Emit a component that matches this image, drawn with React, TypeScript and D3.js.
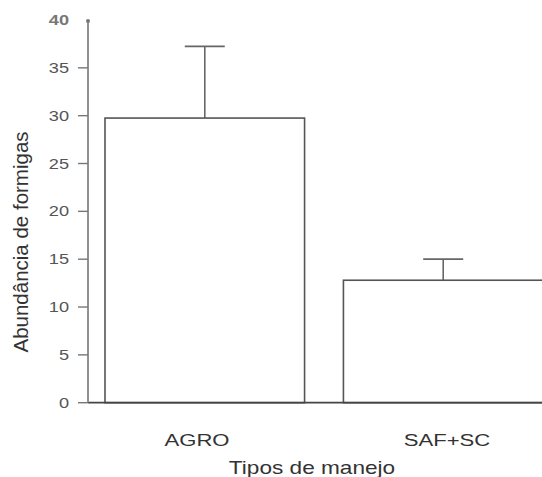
import React from "react";
import * as d3 from "d3";

const categories = ["AGRO", "SAF+SC"];
const means = [29.75, 12.8];
const errors = [7.5, 2.2];
const yTicks = [0, 5, 10, 15, 20, 25, 30, 35, 40];
const yTitle = "Abundância de formigas";
const xTitle = "Tipos de manejo";

export default function App() {
  const W = 542, H = 477;
  const axisX = 88;
  const y = d3.scaleLinear().domain([0, 40]).range([402.7, 20]);
  const x = d3.scaleBand<string>().domain(categories).range([105, 543]).paddingInner(0.163).paddingOuter(0);
  const font = "'Liberation Sans', Arial, sans-serif";
  const sx = 1.3;
  const labelCenters = [197, 447];
  return (
    <svg width={W} height={H} style={{ position: "absolute", left: 0, top: 0, background: "#fff" }}>
      {/* bars */}
      {categories.map((c, i) => (
        <g key={c}>
          <line x1={x(c)! + x.bandwidth() / 2} x2={x(c)! + x.bandwidth() / 2} y1={y(means[i])} y2={y(means[i] + errors[i])} stroke="#666" strokeWidth={1.6} />
          <line x1={x(c)! + x.bandwidth() / 2 - 20} x2={x(c)! + x.bandwidth() / 2 + 20} y1={y(means[i] + errors[i])} y2={y(means[i] + errors[i])} stroke="#666" strokeWidth={1.8} />
          <rect x={x(c)!} y={y(means[i])} width={x.bandwidth()} height={y(0) - y(means[i])} fill="#fff" stroke="#555" strokeWidth={1.6} />
        </g>
      ))}
      {/* baseline */}
      <line x1={axisX} x2={W} y1={y(0)} y2={y(0)} stroke="#444" strokeWidth={1.8} />
      {/* y axis */}
      <line x1={axisX} x2={axisX} y1={y(40)} y2={y(0)} stroke="#777" strokeWidth={1.6} />
      <circle cx={axisX} cy={y(40) + 1} r={2} fill="#777" />
      {yTicks.map((t) => (
        <g key={t}>
          {t !== 40 && <line x1={78} x2={axisX} y1={y(t)} y2={y(t)} stroke="#777" strokeWidth={1.4} />}
          <text
            transform={`translate(69,${y(t) + 5}) scale(${sx},1)`}
            textAnchor="end"
            fontFamily={font}
            fontSize={14}
            fill={t === 40 ? "#777" : "#555"}
            fontWeight={t === 40 ? "bold" : "normal"}
          >
            {t}
          </text>
        </g>
      ))}
      {/* category labels */}
      {categories.map((c, i) => (
        <text key={c} transform={`translate(${labelCenters[i]},445.5) scale(${sx},1)`} textAnchor="middle" fontFamily={font} fontSize={17} fill="#333">
          {c}
        </text>
      ))}
      <text transform={`translate(312,473.5) scale(1.19,1)`} textAnchor="middle" fontFamily={font} fontSize={19} fill="#333">
        {xTitle}
      </text>
      <text transform={`translate(28,242) rotate(-90)`} textAnchor="middle" fontFamily={font} fontSize={20.5} fill="#333">
        {yTitle}
      </text>
    </svg>
  );
}
